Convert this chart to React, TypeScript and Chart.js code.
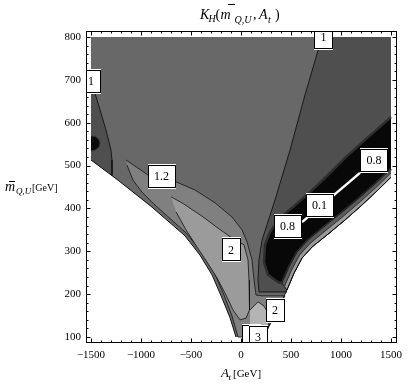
import React, { useEffect, useRef } from "react";
import { Chart, registerables } from "chart.js";

Chart.register(...registerables);

type Pt = [number, number];

// ---- axis ticks ----
const xMajorTicks = [-1500, -1000, -500, 0, 500, 1000, 1500];
const yMajorTicks = [100, 200, 300, 400, 500, 600, 700, 800];
const xMinorStep = 100;
const yMinorStep = 20;

// ---- contour geometry, [A_t (GeV), m_QU (GeV)] ----
const plotTopEdge: Pt[] = [[-1500, 800], [1500, 800]];
const leftBoundary: Pt[] = [[-1500, 513], [-1230, 466], [-890, 403], [-560, 336], [-410, 291], [-290, 245], [-190, 191], [-110, 145], [-50, 100]];
const rightBoundary: Pt[] = [[1500, 473], [1370, 443], [1210, 408], [1040, 373], [870, 340], [710, 310], [610, 284], [530, 249], [460, 210], [390, 175], [320, 144], [270, 121], [240, 100]];
const contourOneRight: Pt[] = [[810, 800], [640, 665], [490, 536], [340, 420], [210, 326], [180, 280], [170, 233], [180, 205], [460, 205]];
const contourOneLeft: Pt[] = [[-1500, 704], [-1460, 669], [-1410, 630], [-1350, 583], [-1300, 536], [-1290, 513], [-1290, 477]];
const leftBlob: Pt[] = [[-1500, 569], [-1450, 567], [-1420, 560], [-1410, 553], [-1420, 543], [-1460, 536], [-1500, 534]];
const lobe12: Pt[] = [[-1150, 513], [-1030, 494], [-930, 478], [-650, 462], [-460, 443], [-260, 413], [-90, 380], [10, 350], [60, 322], [110, 280], [130, 233], [150, 198], [210, 196], [440, 196], [390, 175], [320, 144], [270, 121], [240, 100], [-30, 100], [-90, 149], [-170, 198], [-270, 252], [-390, 298], [-550, 343], [-870, 410], [-990, 438], [-1080, 466], [-1140, 501]];
const lobe2: Pt[] = [[-700, 427], [-590, 413], [-390, 382], [-230, 354], [-90, 331], [30, 315], [70, 280], [80, 233], [90, 186], [80, 163], [50, 144], [-10, 140], [-80, 163], [-150, 198], [-240, 238], [-340, 275], [-440, 310], [-550, 350], [-650, 392]];
const region3: Pt[] = [[90, 163], [170, 182], [230, 172], [290, 149], [270, 126], [90, 126]];
const blackBandTop: Pt[] = [[1500, 613], [1240, 560], [1040, 518], [870, 478], [690, 438], [520, 403], [390, 378], [290, 345], [240, 315], [230, 275], [270, 245], [370, 228]];
const bandInner: Pt[] = [[1500, 492], [1350, 459], [1180, 424], [1000, 389], [830, 357], [670, 326], [560, 298], [480, 263], [410, 226]];
const bandMid: Pt[] = [[1500, 483], [1360, 451], [1195, 416], [1020, 381], [850, 349], [690, 318], [585, 291], [505, 256], [435, 218]];
const whiteContour: Pt[] = [[610, 368], [1190, 483]];

// ---- contour labels ----
const labelText = ["1", "1", "1.2", "2", "2", "", "3", "0.8", "0.1", "0.8"];
const labelA = [825, -1500, -795, -100, 340, 100, 170, 1330, 785, 465];
const labelM = [800, 697, 474, 303, 162, 101, 100, 513, 408, 359];

const SERIF = "'Liberation Serif', 'Times New Roman', serif";

const toXY = (pts: Pt[]) => pts.map(([x, y]) => ({ x, y }));
const rev = (pts: Pt[]) => pts.slice().reverse();

function area(pts: Pt[], fillColor: string, lineColor = "rgba(0,0,0,0)", lineWidth = 0) {
  return {
    data: toXY(pts),
    fill: "shape",
    backgroundColor: fillColor,
    borderColor: lineColor,
    borderWidth: lineWidth,
    pointRadius: 0,
    tension: 0,
  };
}
function curve(pts: Pt[], color: string, width: number) {
  return {
    data: toXY(pts),
    fill: false,
    backgroundColor: color,
    borderColor: color,
    borderWidth: width,
    pointRadius: 0,
    tension: 0,
  };
}

const decor = {
  id: "decor",
  afterDraw(chart: any) {
    const { ctx } = chart;
    const { left, right, top, bottom } = chart.chartArea;
    const xs = chart.scales.x;
    const ys = chart.scales.y;

    // inward ticks
    ctx.save();
    ctx.strokeStyle = "#000";
    ctx.lineWidth = 1;
    ctx.beginPath();
    const x0 = xMajorTicks[0], x1 = xMajorTicks[xMajorTicks.length - 1];
    for (let v = x0; v <= x1 + 1e-6; v += xMinorStep) {
      const L = xMajorTicks.includes(v) ? 4.5 : 2.5;
      const p = Math.round(xs.getPixelForValue(v)) + 0.5;
      ctx.moveTo(p, bottom); ctx.lineTo(p, bottom - L);
      ctx.moveTo(p, top); ctx.lineTo(p, top + L);
    }
    const y0 = yMajorTicks[0], y1 = yMajorTicks[yMajorTicks.length - 1];
    for (let v = y0; v <= y1 + 1e-6; v += yMinorStep) {
      const L = yMajorTicks.includes(v) ? 4.5 : 2.5;
      const p = Math.round(ys.getPixelForValue(v)) + 0.5;
      ctx.moveTo(left, p); ctx.lineTo(left + L, p);
      ctx.moveTo(right, p); ctx.lineTo(right - L, p);
    }
    ctx.stroke();
    ctx.restore();

    // contour labels
    ctx.save();
    ctx.beginPath();
    ctx.rect(left, top, right - left, bottom - top);
    ctx.clip();
    ctx.font = `12px ${SERIF}`;
    ctx.textAlign = "center";
    ctx.textBaseline = "middle";
    labelText.forEach((t, i) => {
      const cx = xs.getPixelForValue(labelA[i]);
      const cy = ys.getPixelForValue(labelM[i]);
      const w = t.length > 1 ? 28 : 19;
      const h = 25;
      const bx = Math.round(cx - w / 2);
      const by = Math.round(cy - h / 2);
      ctx.fillStyle = "#fff";
      ctx.fillRect(bx, by, w, h);
      ctx.strokeStyle = "#000";
      ctx.lineWidth = 1;
      ctx.strokeRect(bx + 0.5, by + 1.5, w - 1, h - 3);
      ctx.fillStyle = "#000";
      if (t) ctx.fillText(t, cx, cy + 0.5);
    });
    ctx.restore();

    // frame
    ctx.save();
    ctx.strokeStyle = "#000";
    ctx.lineWidth = 1;
    ctx.strokeRect(left + 0.5, top + 0.5, right - left - 1, bottom - top - 1);
    ctx.restore();

    // titles
    ctx.save();
    ctx.fillStyle = "#000";
    ctx.strokeStyle = "#000";
    ctx.textAlign = "left";
    ctx.textBaseline = "alphabetic";
    const runs: [string, string, number, number][] = [
      ["K", `italic 14px ${SERIF}`, 200, 19],
      ["H", `italic 10px ${SERIF}`, 208.5, 22],
      ["(", `14px ${SERIF}`, 215.5, 19],
      ["m", `italic 14px ${SERIF}`, 220.5, 19],
      ["Q,U", `italic 10px ${SERIF}`, 234.5, 22.5],
      [",", `14px ${SERIF}`, 253, 19],
      ["A", `italic 14px ${SERIF}`, 259, 19],
      ["t", `italic 10px ${SERIF}`, 268, 22.5],
      [")", `14px ${SERIF}`, 275, 19],
      // y title
      ["m", `italic 14px ${SERIF}`, 5, 191],
      ["Q,U", `italic 9px ${SERIF}`, 16, 194],
      ["[GeV]", `10px ${SERIF}`, 32, 191],
      // x title
      ["A", `italic 13px ${SERIF}`, 221, 377],
      ["t", `italic 9px ${SERIF}`, 228.5, 380],
      ["[GeV]", `11px ${SERIF}`, 233, 377],
    ];
    for (const [t, f, x, y] of runs) {
      ctx.font = f;
      ctx.fillText(t, x, y);
    }
    ctx.lineWidth = 1;
    ctx.beginPath();
    ctx.moveTo(228, 4.5); ctx.lineTo(235, 4.5);
    ctx.moveTo(9, 181.5); ctx.lineTo(15, 181.5);
    ctx.stroke();
    ctx.restore();
  },
};

export default function App() {
  const ref = useRef<HTMLCanvasElement | null>(null);

  useEffect(() => {
    if (!ref.current) return;
    const domain: Pt[] = [...plotTopEdge, ...rightBoundary, ...rev(leftBoundary)];
    const rightDark: Pt[] = [...contourOneRight, ...rev(rightBoundary.slice(0, 9)), [1500, 800]];
    const leftDark: Pt[] = [...contourOneLeft, [-1500, 513]];
    const blackRegion: Pt[] = [...blackBandTop, ...rev(bandInner)];
    const band: Pt[] = [...bandInner, ...rev(rightBoundary.slice(0, 9))];
    const bandOuter: Pt[] = [...bandMid, ...rev(rightBoundary.slice(0, 9))];

    const layers: any[] = [
      area(domain, "#686868"),
      area(leftDark, "#4f4f4f"),
      area(leftBlob, "#0a0a0a", "#333", 1),
      area(rightDark, "#4f4f4f"),
      area(lobe12, "#808080", "#111", 0.8),
      area(lobe2, "#9b9b9b", "#111", 0.8),
      area(region3, "#b4b4b4", "#111", 0.8),
      area(blackRegion, "#080808", "#2e2e2e", 2.5),
      area(band, "#5a5a5a", "#111", 0.7),
      area(bandOuter, "#9a9a9a", "#111", 0.7),
      curve(whiteContour, "#ffffff", 2.5),
      curve(contourOneRight, "#111", 0.9),
      curve(contourOneLeft, "#111", 0.9),
      curve(leftBoundary, "#111", 1),
      curve(rightBoundary, "#111", 1),
    ];
    const datasets = layers.map((d, i) => ({ ...d, order: layers.length - i }));

    const tickFont = { family: SERIF, size: 11 };
    const chart = new Chart(ref.current, {
      type: "line",
      data: { datasets },
      options: {
        animation: false,
        responsive: false,
        events: [],
        layout: { padding: { left: 0, right: 18, top: 31, bottom: 0 } },
        plugins: {
          legend: { display: false },
          tooltip: { enabled: false },
          title: { display: false },
        },
        scales: {
          x: {
            type: "linear",
            min: -1550,
            max: 1560,
            bounds: "data",
            grid: { display: false, drawTicks: false },
            border: { display: false },
            afterBuildTicks: (s: any) => {
              s.ticks = xMajorTicks.map((value) => ({ value }));
            },
            afterFit: (s: any) => {
              s.height = 41;
            },
            ticks: {
              autoSkip: false,
              maxRotation: 0,
              padding: 6,
              color: "#000",
              font: tickFont,
              callback: (v: any) => (v < 0 ? "\u2212" + Math.abs(v) : String(v)),
            },
          },
          y: {
            type: "linear",
            min: 86,
            max: 814,
            bounds: "data",
            grid: { display: false, drawTicks: false },
            border: { display: false },
            afterBuildTicks: (s: any) => {
              s.ticks = yMajorTicks.map((value) => ({ value }));
            },
            afterFit: (s: any) => {
              s.width = 86;
            },
            ticks: {
              autoSkip: false,
              padding: 5,
              color: "#000",
              font: tickFont,
              callback: (v: any) => String(v),
            },
          },
        },
      } as any,
      plugins: [decor],
    });
    return () => chart.destroy();
  }, []);

  return (
    <div style={{ position: "fixed", left: 0, top: 0, width: 415, height: 384, background: "#fff" }}>
      <canvas ref={ref} width={415} height={384} style={{ display: "block" }} />
    </div>
  );
}
